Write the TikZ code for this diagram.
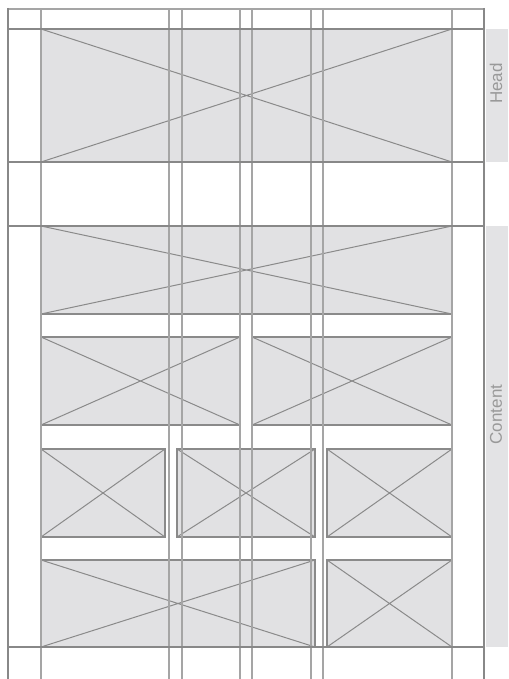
\documentclass[tikz,border=0pt]{standalone}
\usepackage{fontspec}
\setsansfont{Liberation Sans}
\definecolor{boxfill}{HTML}{E1E1E3}
\definecolor{boxedge}{HTML}{8A8A8A}
\definecolor{gridline}{HTML}{A5A5A5}
\definecolor{frameline}{HTML}{888888}
\definecolor{bandfill}{HTML}{E3E3E5}
\definecolor{labeltext}{HTML}{999999}

\begin{document}
\begin{tikzpicture}
  [
  x=1pt, y=-1pt,
  imgbox/.style={draw=boxedge, fill=boxfill, line width=1.5pt, inner sep=0pt, outer sep=0pt, anchor=north west},
  cross/.style={draw=boxedge, line width=1pt},
  guide/.style={draw=gridline, line width=1.1pt},
  rowline/.style={draw=frameline, line width=2pt},
  frame/.style={draw=frameline, line width=2.4pt},
  band/.style={fill=bandfill, inner sep=0pt, outer sep=0pt, minimum width=22pt, anchor=north west},
  sidetext/.style={rotate=90, text=labeltext, inner sep=0pt, font=\sffamily\fontsize{17}{17}\selectfont}
  ]
  \useasboundingbox[fill=white] (0,0) rectangle (508,679);

  % placeholder images
  \foreach \name/\x/\y/\w/\h in {head/41/29/411/133, wide/41/226/411/88,
      halfl/41/337/199/88, halfr/252/337/200/88,
      thirda/41/449/124/88, thirdb/177/449/138/88, thirdc/327/449/125/88,
      wideb/41/560/274/87, smallb/327/560/125/87}
  {
    \node[imgbox, minimum width=\w pt, minimum height=\h pt] (\name) at (\x,\y) {};
    \draw[cross] (\name.north west) -- (\name.south east)
                 (\name.north east) -- (\name.south west);
  }

  % column guides
  \foreach \gx in {41,169,182,240,252,311,323,452}
    \draw[guide] (\gx,9) -- (\gx,679);
  \draw[guide, line width=1.8pt] (8,9) -- (484,9);
  \foreach \gy in {29,162,226,647}
    \draw[rowline] (8,\gy) -- (484,\gy);
  \draw[frame] (8,8) -- (8,679);
  \draw[frame] (484,8) -- (484,679);

  % side labels
  \node[band, minimum height=133pt] (headband) at (486,29) {};
  \node[band, minimum height=421pt] (contentband) at (486,226) {};
  \node[sidetext] (headlabel) at (496,83.5) {Head};
  \node[sidetext] (contentlabel) at (496,414.5) {Content};
\end{tikzpicture}
\end{document}
